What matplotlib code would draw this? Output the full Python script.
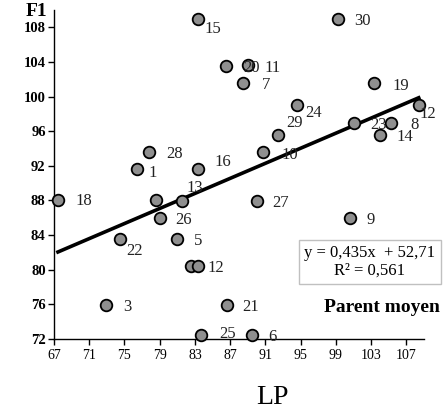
import numpy as np
import matplotlib
matplotlib.use('Agg')
import matplotlib.pyplot as plt

plt.rcParams['font.family'] = ['Liberation Serif', 'DejaVu Serif']

# individual values
labels = ['1', '3', '5', '6', '7', '8', '9', '10', '11', '12',
          '13', '14', '15', '16', '18', '19', '20', '21', '22', '23',
          '24', '25', '26', '27', '28', '29', '30', '12', '', '']
lp = [76.4, 72.9, 81.0, 89.5, 88.5, 105.3, 100.6, 90.7, 89.0, 108.4,
      81.5, 104.0, 83.4, 83.4, 67.45, 103.3, 86.5, 86.6, 74.5, 101.0,
      94.6, 83.7, 79.0, 90.0, 77.8, 92.4, 99.2, 82.5, 83.4, 78.6]
f1 = [91.6, 75.9, 83.6, 72.5, 101.6, 97.0, 86.0, 93.6, 103.6, 99.0,
      87.9, 95.6, 109.0, 91.6, 88.1, 101.6, 103.5, 75.9, 83.6, 97.0,
      99.0, 72.5, 86.0, 87.9, 93.6, 95.6, 109.0, 80.4, 80.4, 88.1]

slope, intercept, r2 = 0.435, 52.71, 0.561
x_ticks = [67, 71, 75, 79, 83, 87, 91, 95, 99, 103, 107]
y_ticks = [72, 76, 80, 84, 88, 92, 96, 100, 104, 108]

# label offsets in pixels (dx, dy), same order as the points
offsets = [(12, -4), (17, -2), (17, -2), (16, -2), (18, -2), (19, -2), (17, -2),
           (19, -3), (17, -3), (1, -9), (5, 13), (17, -2), (6, -10), (16, 7),
           (18, -1), (19, -3), (17, -2), (16, -2), (6, -12), (17, -2), (8, -8),
           (18, 1), (16, -2), (16, -2), (17, -2), (8, 12), (17, -2), (17, -2),
           (17, -2), (17, -2)]

fig = plt.figure(figsize=(4.45, 4.2), dpi=100)
ax = fig.add_axes([54 / 445, 1 - 339 / 420, 370 / 445, 329 / 420])

xs = np.array([min(lp), max(lp)])
ax.plot(xs, slope * xs + intercept, color='black', lw=2.6, zorder=2)

ax.scatter(lp, f1, s=70, c='#8f8f8f', edgecolors='black', linewidths=1.3,
           zorder=3, clip_on=False)

for lab, x, y, off in zip(labels, lp, f1, offsets):
    if lab:
        ax.annotate(lab, (x, y), xytext=off, textcoords='offset pixels',
                    ha='left', va='center', fontsize=12, color='#222222', zorder=4)

ax.set_xlim(67, 109)
ax.set_ylim(72, 110)
ax.set_xticks(x_ticks)
ax.set_yticks(y_ticks)
ax.tick_params(axis='x', labelsize=10, length=4, width=1, direction='out', pad=3)
ax.tick_params(axis='y', labelsize=10.5, length=4, width=1, direction='out', pad=2)
for t in ax.get_yticklabels():
    t.set_fontweight('bold')
for s in ['top', 'right']:
    ax.spines[s].set_visible(False)
for s in ['left', 'bottom']:
    ax.spines[s].set_linewidth(1)

fig.text(36 / 445, 1 - 11 / 420, 'F1', fontsize=14, fontweight='bold',
         ha='center', va='center')
fig.text(272 / 445, 1 - 397 / 420, 'LP', fontsize=20, ha='center', va='center')

eq = 'y = {}x  + {}\nR\u00b2 = {}'.format(f'{slope:.3f}'.replace('.', ','),
                                          f'{intercept:.2f}'.replace('.', ','),
                                          f'{r2:.3f}'.replace('.', ','))
fig.text(370 / 445, 1 - 262 / 420, eq,
         fontsize=12, ha='center', va='center', linespacing=1.1,
         bbox=dict(boxstyle='square,pad=0.35', fc='white', ec='#c0c0c0', lw=1))
fig.text(382 / 445, 1 - 307 / 420, 'Parent moyen', fontsize=14,
         fontweight='bold', ha='center', va='center')

fig.savefig('out.png', dpi=100)
